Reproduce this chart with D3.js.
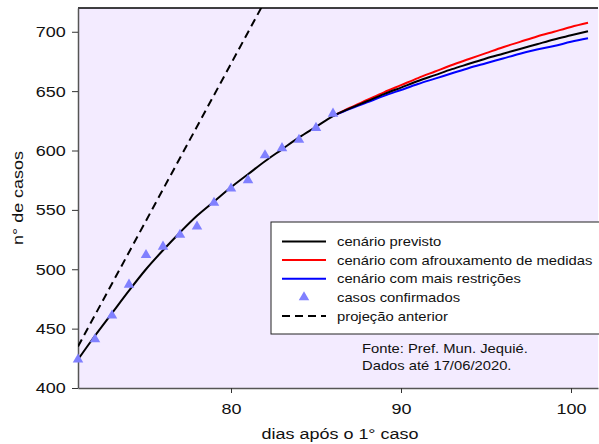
<!DOCTYPE html>
<html>
<head>
<meta charset="utf-8">
<script src="https://cdn.jsdelivr.net/npm/d3@7"></script>
<style>
  body { margin: 0; background: #fff; }
  svg { display: block; font-family: 'Liberation Sans', Arial, sans-serif; }
</style>
</head>
<body>
<div id="graf"></div>
<script>
// Casos em Jequié - projeções

// dias com casos confirmados
diasCasos = [71, 72, 73, 74, 75, 76, 77, 78, 79, 80, 81, 82, 83, 84, 85, 86]
casos     = [424, 441, 461, 487, 512, 519, 529, 536, 556, 568, 575, 596, 602, 609, 619, 631]

// cenário previsto (ajuste)
diasPrevisto = [71, 72, 73, 74, 75, 76, 77, 78, 79, 80, 81, 82, 83, 84, 85, 86,
                87, 88, 89, 90, 91, 92, 93, 94, 95, 96, 97, 98, 99, 100, 101]
previsto     = [424, 444, 463, 482, 500, 516, 531, 545, 557, 569, 580, 591, 601, 611, 620, 629,
                635.5, 641.5, 647.5, 653, 658.5, 663.5, 668.5, 673, 677.5, 681.5, 685.5, 689.5, 693.5, 697, 700.5]

// cenários a partir do dia 86
diasCenario = [86, 87, 88, 89, 90, 91, 92, 93, 94, 95, 96, 97, 98, 99, 100, 101]
afrouxamento = [629, 636, 642.5, 649, 655, 661, 666.5, 672, 677, 682, 687, 691.5, 696, 700, 704, 707.5]
restricoes   = [629, 635, 640.5, 646, 651, 656, 660.5, 665, 669.5, 673.5, 677.5, 681.5, 685, 688, 691.5, 694.5]

// projeção anterior (reta)
diasAnterior = [71, 82]
anterior     = [435, 726]

xTicks = [80, 90, 100]
yTicks = [400, 450, 500, 550, 600, 650, 700]

legenda = [
  { nome: 'cenário previsto', tipo: 'linha', cor: '#000000' },
  { nome: 'cenário com afrouxamento de medidas', tipo: 'linha', cor: '#ff0000' },
  { nome: 'cenário com mais restrições', tipo: 'linha', cor: '#0000ff' },
  { nome: 'casos confirmados', tipo: 'ponto', cor: '#8080ff' },
  { nome: 'projeção anterior', tipo: 'tracejado', cor: '#000000' }
]

// o texto do original é um pouco "esticado" na horizontal
esticar = 1.16

ancho_total = 599
alto_total  = 444
margins = { top: 8, left: 78, right: 1, bottom: 56 }
ancho = ancho_total - margins.left - margins.right
alto  = alto_total - margins.top - margins.bottom

svg = d3.select('#graf').append('svg')
        .attr('width', ancho_total)
        .attr('height', alto_total)

g = svg.append('g')
       .attr('transform', `translate(${margins.left}, ${margins.top})`)

x = d3.scaleLinear().domain([71, 71 + ancho / 17]).range([0, ancho])
y = d3.scaleLinear().domain([400, 720]).range([alto, 0])

// escreve um texto na posição (px, py) com o esticamento
function texto(sel, px, py, t, size, anchor, rot, est) {
  return sel.append('text')
    .attr('transform', `translate(${px},${py})` + (rot ? ` rotate(${rot})` : '') + ` scale(${est || esticar},1)`)
    .attr('text-anchor', anchor || 'start')
    .attr('font-size', size + 'px')
    .attr('fill', '#111')
    .text(t)
}

// fundo
g.append('rect')
  .attr('width', ancho)
  .attr('height', alto)
  .attr('fill', '#f3ebff')

g.append('clipPath')
  .attr('id', 'clip')
  .append('rect')
  .attr('width', ancho)
  .attr('height', alto)

// borda de cima
g.append('line')
  .attr('x1', 0).attr('x2', ancho)
  .attr('y1', 0).attr('y2', 0)
  .attr('stroke', '#000')
  .attr('stroke-width', 1.5)

// eixos
xAxis = d3.axisBottom(x).tickValues(xTicks).tickSize(5).tickSizeOuter(0)
yAxis = d3.axisLeft(y).tickValues(yTicks).tickSize(6).tickSizeOuter(0)

gx = g.append('g')
  .attr('transform', `translate(0,${alto})`)
  .call(xAxis)
gy = g.append('g')
  .call(yAxis)

;[gx, gy].forEach(a => {
  a.select('.domain').attr('stroke', '#555').attr('stroke-width', 1.5)
  a.selectAll('.tick line').attr('stroke', '#333')
  a.selectAll('.tick text')
    .attr('font-family', "'Liberation Sans', Arial, sans-serif")
    .attr('font-size', '15.5px')
    .attr('fill', '#111')
    .attr('transform', `scale(${esticar},1)`)
})
gx.selectAll('.tick text').attr('y', 11).attr('dy', '1.0em')
gy.selectAll('.tick text').attr('x', -10.5)

linha = d3.line()
  .x(d => x(d[0]))
  .y(d => y(d[1]))
  .curve(d3.curveMonotoneX)

curvas = g.append('g').attr('clip-path', 'url(#clip)')

curvas.append('path')
  .datum(d3.zip(diasAnterior, anterior))
  .attr('d', linha)
  .attr('fill', 'none')
  .attr('stroke', '#000')
  .attr('stroke-width', 2)
  .attr('stroke-dasharray', '8,5')

curvas.append('path')
  .datum(d3.zip(diasCenario, afrouxamento))
  .attr('d', linha)
  .attr('fill', 'none')
  .attr('stroke', '#ff0000')
  .attr('stroke-width', 2)

curvas.append('path')
  .datum(d3.zip(diasCenario, restricoes))
  .attr('d', linha)
  .attr('fill', 'none')
  .attr('stroke', '#0000ff')
  .attr('stroke-width', 2)

curvas.append('path')
  .datum(d3.zip(diasPrevisto, previsto))
  .attr('d', linha)
  .attr('fill', 'none')
  .attr('stroke', '#000')
  .attr('stroke-width', 2)

triangulo = d3.symbol().type(d3.symbolTriangle).size(48)

g.selectAll('.caso')
  .data(d3.zip(diasCasos, casos))
  .enter()
  .append('path')
  .attr('class', 'caso')
  .attr('d', triangulo)
  .attr('transform', d => `translate(${x(d[0])},${y(d[1])})`)
  .attr('fill', '#8080ff')

// títulos dos eixos
texto(svg, 340, 439, 'dias após o 1° caso', 15.5, 'middle')
texto(svg, 23, margins.top + alto / 2, 'n° de casos', 15.5, 'middle', -90)

// legenda
leg = g.append('g').attr('transform', `translate(${271 - margins.left}, ${222 - margins.top})`)
leg.append('rect')
  .attr('x', 0).attr('y', 0)
  .attr('width', 340)
  .attr('height', 112)
  .attr('fill', '#fff')
  .attr('stroke', '#222')
  .attr('stroke-width', 1)

legenda.forEach((d, i) => {
  yy = 19.5 + i * 18.6
  if (d.tipo == 'ponto') {
    leg.append('path')
      .attr('d', triangulo)
      .attr('transform', `translate(33,${yy})`)
      .attr('fill', d.cor)
  } else {
    leg.append('line')
      .attr('x1', 11).attr('x2', 55)
      .attr('y1', yy).attr('y2', yy)
      .attr('stroke', d.cor)
      .attr('stroke-width', 2)
      .attr('stroke-dasharray', d.tipo == 'tracejado' ? '8,5' : null)
  }
  texto(leg, 66, yy + 4.7, d.nome, 13.2, 'start', 0, 1.12)
})

// fonte
fonte = ['Fonte: Pref. Mun. Jequié.', 'Dados até 17/06/2020.']
fonte.forEach((t, i) => {
  texto(svg, 362, 353 + i * 17, t, 13.2, 'start', 0, 1.12)
})
</script>
</body>
</html>
